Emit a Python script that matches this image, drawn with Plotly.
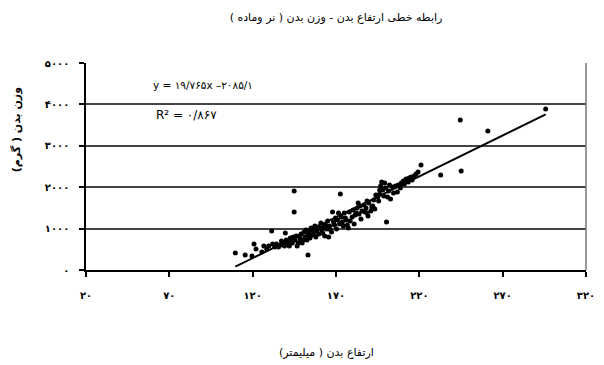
import plotly.graph_objects as go

# Body height (mm) and body weight (g) measurements
height_mm = [
    109.6, 115.5, 119.6, 120.8, 122.0, 126.7, 131.4, 132.0, 133.2, 135.5,
    138.5, 139.6, 141.4, 143.2, 144.9, 144.9, 144.4, 147.9, 147.3, 150.3,
    150.8, 153.2, 153.2, 156.1, 157.9, 159.1, 162.0, 163.8, 165.6, 166.8,
    167.9, 168.5, 170.9, 172.6, 171.5, 173.8, 175.6, 176.8, 177.4, 179.7,
    181.5, 182.7, 183.3, 185.6, 188.6, 188.6, 191.5, 192.1, 189.2, 195.0,
    196.2, 197.4, 199.2, 196.2, 200.3, 200.9, 203.9, 206.8, 209.2, 212.1,
    215.1, 218.0, 221.0, 232.8, 245.1, 244.6, 261.1, 295.8,
    134.3, 136.7, 137.3, 139.1, 140.2, 142.0, 142.6, 143.8, 145.5, 146.1,
    146.7, 148.5, 149.1, 149.7, 151.4, 152.0, 152.6, 153.8, 154.4, 155.0,
    155.6, 156.7, 157.3, 158.5, 159.7, 160.3, 160.9, 161.5, 162.6, 163.2,
    164.4, 165.0, 166.2, 167.3, 169.1, 169.7, 170.3, 172.1, 173.2, 174.4,
    175.0, 176.2, 178.0, 178.5, 180.3, 180.9, 182.1, 183.8, 184.4, 185.0,
    186.8, 187.4, 188.0, 189.7, 190.9, 192.7, 193.3, 193.9, 195.6, 196.8,
    198.0, 198.6, 199.8, 201.5, 202.1, 202.7, 204.5, 205.7, 207.4, 208.6,
    210.4, 211.0, 213.3, 213.9, 215.7, 216.9, 219.2,
    125.5, 128.4, 129.6,
]
weight_g = [
    411, 362, 338, 628, 507, 580, 942, 628, 555, 555,
    652, 894, 652, 725, 1908, 1401, 797, 821, 652, 725,
    918, 362, 845, 966, 797, 1038, 894, 1087, 797, 966,
    1401, 1159, 1208, 1835, 1377, 1159, 1256, 1087, 1014, 1280,
    1328, 1497, 1618, 1425, 1666, 1377, 1521, 1546, 1304, 1763,
    1932, 2125, 2101, 1835, 1159, 1763, 2004, 1884, 2101, 2198,
    2246, 2318, 2536, 2294, 2391, 3623, 3357, 3888,
    628, 604, 700, 580, 725, 580, 773, 652, 725, 821,
    580, 749, 869, 652, 797, 966, 725, 918, 773, 1014,
    845, 894, 1063, 942, 869, 1014, 1135, 966, 1038, 821,
    990, 1183, 1063, 918, 1087, 1256, 990, 1111, 1280, 1063,
    1377, 1208, 1401, 1183, 1449, 1111, 1377, 1352, 1546, 1232,
    1570, 1401, 1497, 1618, 1425, 1691, 1473, 1811, 1666, 2029,
    1932, 1787, 1980, 1908, 2053, 1715, 1860, 2029, 2053, 1980,
    2149, 2077, 2125, 2222, 2174, 2270, 2367,
    435, 507, 580,
]

# Linear fit reported on the chart
slope = 19.765
intercept = -2085.1
r_squared_text = "۰/۸۶۷"
equation_text = "y = ۱۹/۷۶۵x –۲۰۸۵/۱"

x_ticks = [20, 70, 120, 170, 220, 270, 320]
x_tick_text = ["۲۰", "۷۰", "۱۲۰", "۱۷۰", "۲۲۰", "۲۷۰", "۳۲۰"]
y_ticks = [0, 1000, 2000, 3000, 4000, 5000]
y_tick_text = ["۰", "۱۰۰۰", "۲۰۰۰", "۳۰۰۰", "۴۰۰۰", "۵۰۰۰"]

title_text = "رابطه خطی ارتفاع بدن - وزن بدن ( نر وماده )"
x_title = "ارتفاع بدن ( میلیمتر)"
y_title = "وزن بدن ( گرم)"

FONT = "DejaVu Sans, Tahoma, sans-serif"

fit_x = [min(height_mm), max(height_mm)]
fit_y = [slope * v + intercept for v in fit_x]

fig = go.Figure()
fig.add_trace(go.Scatter(
    x=height_mm, y=weight_g, mode="markers",
    marker=dict(color="black", size=5),
    showlegend=False, hoverinfo="x+y",
))
fig.add_trace(go.Scatter(
    x=fit_x, y=fit_y, mode="lines",
    line=dict(color="black", width=2),
    showlegend=False, hoverinfo="skip",
))

fig.update_layout(
    width=604, height=365,
    margin=dict(l=86, r=9, t=63, b=95),
    paper_bgcolor="white", plot_bgcolor="white",
    font=dict(family=FONT, color="black", size=10),
    title=dict(text=title_text, x=0.5, xref="paper", xanchor="center",
               y=(365 - 17) / 365, yref="container", yanchor="middle",
               font=dict(family=FONT, size=11, color="black")),
)

fig.update_xaxes(
    range=[20, 320], tickvals=x_ticks, ticktext=x_tick_text,
    showgrid=False, zeroline=False,
    showline=True, linecolor="black", linewidth=1.5,
    ticks="outside", ticklen=5, tickcolor="black", tickwidth=1.5,
    ticklabelstandoff=10, ticklabeloverflow="allow",
    tickfont=dict(size=10, weight="bold"),
)
fig.update_yaxes(
    range=[0, 5000], tickvals=y_ticks, ticktext=y_tick_text,
    showgrid=True, gridcolor="#444444", gridwidth=1.5, zeroline=False,
    showline=True, linecolor="black", linewidth=1.5,
    ticks="outside", ticklen=5, tickcolor="black", tickwidth=1.5,
    ticklabelstandoff=8, ticklabeloverflow="allow",
    tickfont=dict(size=10, weight="bold"),
)

# right-hand frame edge
fig.add_shape(type="line", xref="paper", yref="paper",
              x0=1, x1=1, y0=0, y1=1,
              line=dict(color="#777777", width=1.5))

fig.add_annotation(text=equation_text, xref="x", yref="y",
                   x=58.9, y=4468, xanchor="left", yanchor="middle",
                   showarrow=False, font=dict(size=10.5, color="black"))
fig.add_annotation(text="R² = " + r_squared_text, xref="x", yref="y",
                   x=60.7, y=3743, xanchor="left", yanchor="middle",
                   showarrow=False, font=dict(size=12, color="black"))

fig.add_annotation(text=x_title, xref="paper", yref="paper",
                   x=(331 - 86) / 509, y=(270 - 352) / 207,
                   xanchor="center", yanchor="middle",
                   showarrow=False, font=dict(size=11, color="black"))
fig.add_annotation(text=y_title, xref="paper", yref="paper",
                   x=(15 - 86) / 509, y=(270 - 130) / 207,
                   xanchor="center", yanchor="middle", textangle=-90,
                   showarrow=False,
                   font=dict(size=11, color="black", weight="bold"))

fig.write_html("out.html")
